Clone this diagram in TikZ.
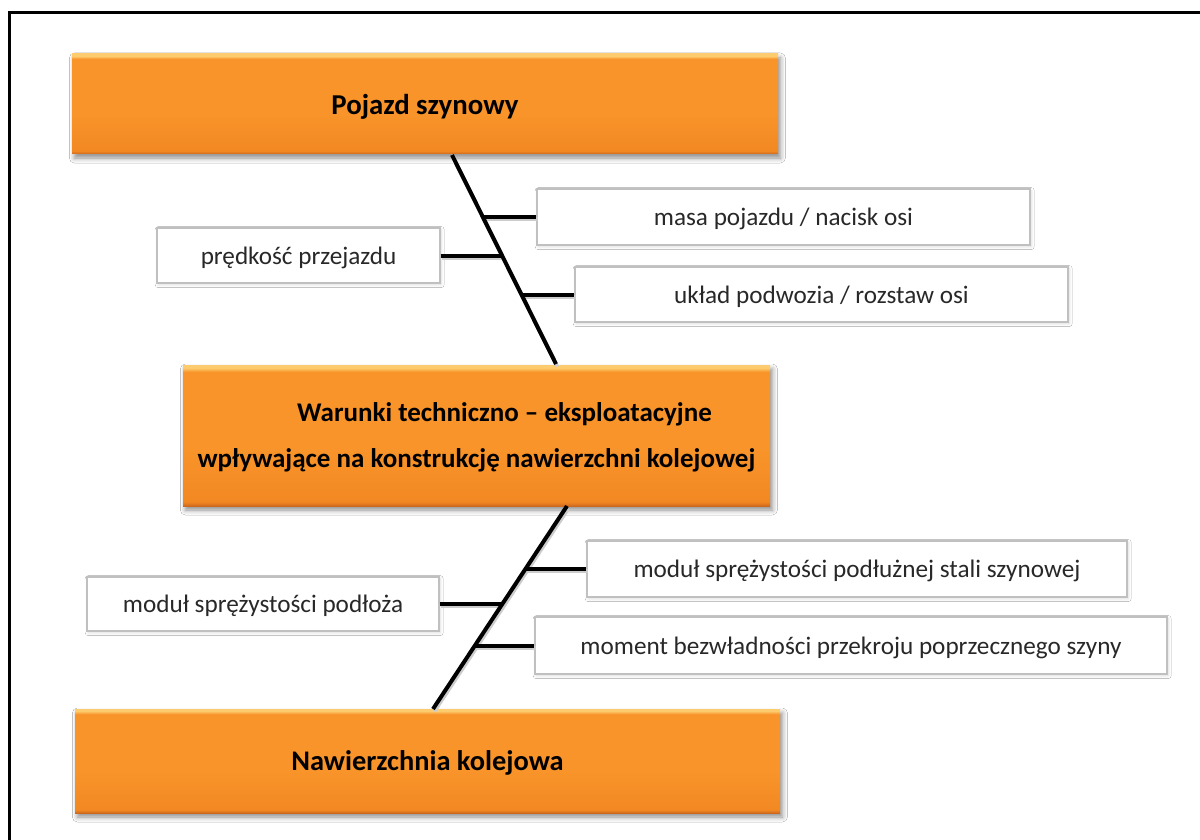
\documentclass[tikz,border=0pt]{standalone}
\usepackage{fontspec}
\setmainfont{Carlito}
\usetikzlibrary{shadows.blur}

\definecolor{otop}{RGB}{252,204,110}
\definecolor{obody}{RGB}{248,148,42}
\definecolor{obody2}{RGB}{242,136,34}
\definecolor{obot}{RGB}{205,105,30}
\definecolor{boxline}{RGB}{192,192,192}
\definecolor{txt}{RGB}{40,40,40}

% bevelled orange fill: light rim on top, darker rim at the bottom
\pgfdeclareverticalshading{orangebevel}{100bp}{%
  color(0bp)=(obot); color(25bp)=(obot); color(26.5bp)=(obody2);
  color(45bp)=(obody); color(72.5bp)=(obody); color(74bp)=(otop);
  color(100bp)=(otop)}

\begin{document}
\begin{tikzpicture}[x=0.5pt,y=-0.5pt,
  mainbox/.style={shading=orangebevel, draw=none, inner sep=0pt,
    align=center, text=black, font=\bfseries, text depth=0pt,
    blur shadow={shadow xshift=1.2pt, shadow yshift=-2pt,
      shadow blur radius=2.5pt, shadow opacity=45}},
  factor/.style={draw=boxline, line width=0.6pt, fill=white, inner sep=0pt,
    text=txt, font=\fontsize{12.6}{14}\selectfont, text depth=0pt,
    blur shadow={shadow xshift=0.6pt, shadow yshift=-0.8pt,
      shadow blur radius=1.5pt, shadow opacity=15}},
  bone/.style={line width=2pt, black},
  rib/.style={line width=2pt, black}]

\useasboundingbox (0,0) rectangle (1200,840);
\fill[white] (0,0) rectangle (1200,840);

% page frame, open to the right and bottom
\draw[line width=1.6pt, black] (9.5,840) -- (9.5,12.5) -- (1200,12.5);

% main blocks
\node[mainbox, minimum width=353pt, minimum height=50pt,
  font=\bfseries\fontsize{14.4}{16}\selectfont] (veh) at (425,104) {Pojazd szynowy};
\node[mainbox, minimum width=293.5pt, minimum height=70.5pt,
  font=\bfseries\fontsize{13.5}{23}\selectfont] (cond) at (476.5,435.5)
  {\hspace*{28pt}Warunki techniczno -- eksploatacyjne\\wpływające na konstrukcję nawierzchni kolejowej};
\node[mainbox, minimum width=352.5pt, minimum height=52pt,
  font=\bfseries\fontsize{14.2}{16}\selectfont] (track) at (427.5,761) {Nawierzchnia kolejowa};

% vehicle factors
\node[factor, minimum width=246.5pt, minimum height=28pt] (mass) at (783.5,217) {masa pojazdu / nacisk osi};
\node[factor, minimum width=141.5pt, minimum height=27.5pt] (speed) at (298.5,255.5) {prędkość przejazdu};
\node[factor, minimum width=246.5pt, minimum height=27.5pt] (bogie) at (821.5,294.5) {układ podwozia / rozstaw osi};

% track factors
\node[factor, minimum width=270pt, minimum height=28pt] (steel) at (857,569) {moduł sprężystości podłużnej stali szynowej};
\node[factor, minimum width=176pt, minimum height=27pt] (subgr) at (263,604) {moduł sprężystości podłoża};
\node[factor, minimum width=316pt, minimum height=28.5pt] (inert) at (851,645.5) {moment bezwładności przekroju poprzecznego szyny};

% spine ends and rib junctions
\coordinate (a1) at (452,155);
\coordinate (a2) at (556,364);
\coordinate (j1) at (483.3,217);
\coordinate (j2) at (502.5,255.5);
\coordinate (j3) at (521.8,294.5);
\coordinate (b1) at (567,506);
\coordinate (b2) at (433,709);
\coordinate (k1) at (525.4,569);
\coordinate (k2) at (502.3,604);
\coordinate (k3) at (474.9,645.5);

% connectors, with a faint shadow underneath
\begin{scope}[gray!40, line width=2pt, transform canvas={xshift=0.6pt, yshift=-1.2pt}]
  \draw (a1) -- (a2); \draw (b1) -- (b2);
  \draw (j1) -- (mass.west); \draw (speed.east) -- (j2); \draw (j3) -- (bogie.west);
  \draw (k1) -- (steel.west); \draw (subgr.east) -- (k2); \draw (k3) -- (inert.west);
\end{scope}
\draw[bone] (a1) -- (a2);
\draw[bone] (b1) -- (b2);
\draw[rib] (j1) -- (mass.west);
\draw[rib] (speed.east) -- (j2);
\draw[rib] (j3) -- (bogie.west);
\draw[rib] (k1) -- (steel.west);
\draw[rib] (subgr.east) -- (k2);
\draw[rib] (k3) -- (inert.west);
\end{tikzpicture}
\end{document}
